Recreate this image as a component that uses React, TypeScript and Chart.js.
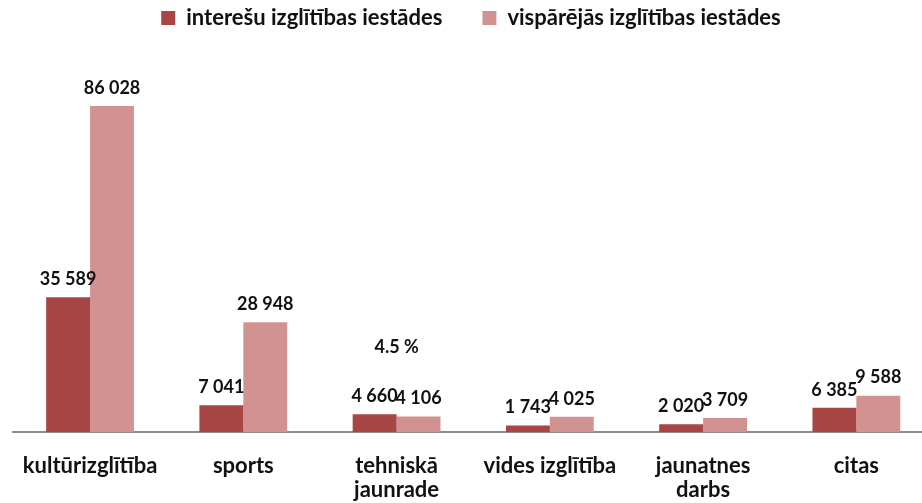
import React, { useEffect, useRef } from "react";
import { Chart, registerables } from "chart.js";

Chart.register(...registerables);

const categories: (string | string[])[] = [
  "kultūrizglītība",
  "sports",
  ["tehniskā", "jaunrade"],
  "vides izglītība",
  ["jaunatnes", "darbs"],
  "citas",
];
const seriesNames = ["interešu izglītības iestādes", "vispārējās izglītības iestādes"];
const interesuValues = [35589, 7041, 4660, 1743, 2020, 6385];
const visparejasValues = [86028, 28948, 4106, 4025, 3709, 9588];
const noteText = "4.5 %";
const noteCategoryIndex = 2;
const noteValue = 22500;

const FONT = "Lato, 'Open Sans', sans-serif";

function fmt(v: number): string {
  return String(v).replace(/\B(?=(\d{3})+(?!\d))/g, " ");
}

const labelsPlugin = {
  id: "barLabels",
  afterDatasetsDraw(chart: any) {
    const ctx = chart.ctx;
    ctx.save();
    ctx.font = `bold 18px ${FONT}`;
    ctx.fillStyle = "#111";
    ctx.textAlign = "center";
    ctx.textBaseline = "middle";
    chart.data.datasets.forEach((ds: any, di: number) => {
      const meta = chart.getDatasetMeta(di);
      meta.data.forEach((bar: any, i: number) => {
        ctx.fillText(fmt(ds.data[i]), bar.x, bar.y - 18);
      });
    });
    const xs = chart.scales.x;
    const ys = chart.scales.y;
    ctx.fillText(noteText, xs.getPixelForValue(noteCategoryIndex), ys.getPixelForValue(noteValue));
    ctx.restore();
  },
};

export default function App() {
  const ref = useRef<HTMLCanvasElement>(null);
  useEffect(() => {
    if (!ref.current) return;
    const chart = new Chart(ref.current, {
      type: "bar",
      data: {
        labels: categories,
        datasets: [
          {
            label: seriesNames[0],
            data: interesuValues,
            backgroundColor: "#A84646",
            categoryPercentage: 0.573,
            barPercentage: 1.0,
          },
          {
            label: seriesNames[1],
            data: visparejasValues,
            backgroundColor: "#D39292",
            categoryPercentage: 0.573,
            barPercentage: 1.0,
          },
        ],
      },
      options: {
        animation: false,
        responsive: false,
        maintainAspectRatio: false,
        layout: { autoPadding: false, padding: { left: 9, right: 0, top: -33, bottom: 0 } },
        plugins: {
          tooltip: { enabled: false },
          legend: {
            position: "top",
            align: "center",
            labels: {
              boxWidth: 14,
              boxHeight: 14,
              padding: 40,
              color: "#111",
              font: { family: FONT, size: 22, weight: "bold" },
            },
          },
        },
        scales: {
          x: {
            offset: true,
            grid: { display: false, drawTicks: false },
            border: { display: true, color: "#8c8c8c", width: 2 },
            ticks: {
              color: "#111",
              padding: 22,
              maxRotation: 0,
              autoSkip: false,
              font: { family: FONT, size: 22, weight: "bold", lineHeight: 1.1 },
            },
            afterFit: (scale: any) => {
              scale.height = 71;
            },
          },
          y: {
            display: false,
            min: 0,
            max: 103700,
          },
        },
      },
      plugins: [labelsPlugin],
    });
    return () => chart.destroy();
  }, []);
  return (
    <div style={{ position: "fixed", left: 0, top: 0, width: 933, height: 503, overflow: "hidden", background: "#fff" }}>
      <canvas ref={ref} width={933} height={503} style={{ display: "block" }} />
    </div>
  );
}
